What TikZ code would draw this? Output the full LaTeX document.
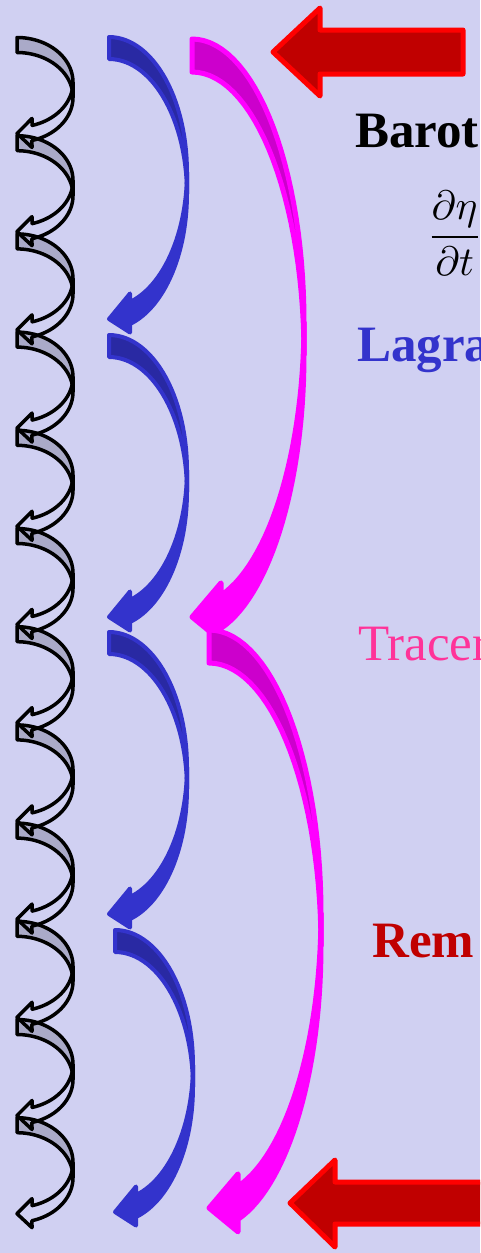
\documentclass[tikz,border=0pt]{standalone}
\usepackage{fontspec}
\setmainfont{Liberation Serif}
\usepackage{amsmath}
\definecolor{bg}{RGB}{208,208,242}
\definecolor{bluemain}{RGB}{51,51,204}
\definecolor{bluedark}{RGB}{41,41,163}
\definecolor{magmain}{RGB}{255,0,255}
\definecolor{magdark}{RGB}{204,0,204}
\definecolor{crescent}{RGB}{170,170,200}
\definecolor{redfill}{RGB}{192,0,0}
\definecolor{redline}{RGB}{255,0,0}
\definecolor{pinktext}{RGB}{255,51,153}
\tikzset{
  blue/back/.style={fill=bluedark, draw=bluemain, line width=4, line join=round},
  blue/front/.style={fill=bluemain, draw=bluemain, line width=4, line join=round},
  mag/back/.style={fill=magdark, draw=magmain, line width=5, line join=round},
  mag/front/.style={fill=magmain, draw=magmain, line width=5, line join=round},
  blk/back/.style={fill=crescent, draw=black, line width=3.5, line join=round},
  blk/front/.style={draw=black, line width=3.5, line join=round},
  redarrow/.style={fill=redfill, draw=redline, line width=5, line join=round},
  lbl/.style={anchor=base west, inner sep=0pt},
}
% #1 x0, #2 y0, #3 w, #4 hR, #5 th, #6 x1, #7 dh, #8 tip y, #9 style family
\newcommand{\carrow}[9]{%
  \begin{scope}[shift={(#1,#2)}]
    \pgfmathsetmacro\caW{#3}
    \pgfmathsetmacro\caR{#4}
    \pgfmathsetmacro\caT{#5}
    \pgfmathsetmacro\caX{#6}
    \pgfmathsetmacro\caD{#7}
    \pgfmathsetmacro\caS{acos(#6/#3)}
    \pgfmathsetmacro\caYf{\caR+\caR*sin(\caS)}
    \pgfmathsetmacro\caYs{\caR+\caT+\caR*sin(\caS)}
    \path[#9/back] (\caW,\caR+\caT)
      -- plot[domain=0:90,samples=30] ({\caW*cos(\x)},{\caR+\caT-\caR*sin(\x)})
      -- (0,0)
      -- plot[domain=0:90,samples=30] ({\caW*sin(\x)},{\caR-\caR*cos(\x)})
      -- cycle;
    \path[#9/front] (\caW,\caR+\caT)
      -- plot[domain=0:\caS,samples=30] ({\caW*cos(\x)},{\caR+\caT+\caR*sin(\x)})
      -- (\caX,\caYs+\caD) -- (0,#8) -- (\caX,\caYf-\caD) -- (\caX,\caYf)
      -- plot[domain=0:\caS,samples=30] ({\caW*cos(\caS-\x)},{\caR+\caR*sin(\caS-\x)})
      -- cycle;
  \end{scope}}
\begin{document}
\begin{tikzpicture}[x=1pt,y=-1pt]
\useasboundingbox (0,0) rectangle (480,1253);
\fill[bg] (0,0) rectangle (480,1253);
\clip (0,0) rectangle (480,1253);

% black chain of small curved arrows
\foreach \i in {11,10,...,0}{
  \carrow{17}{37.5+98.2*\i}{56}{44.8}{15}{15}{7}{96}{blk}
}

% blue curved arrows
\carrow{109}{37}{78}{135}{22}{21}{8.5}{282}{blue}
\carrow{109}{335}{78}{135}{22}{21}{8.5}{282}{blue}
\carrow{109}{632}{78}{135}{22}{21}{8.5}{282}{blue}
\carrow{115}{930}{78}{135}{22}{21}{8.5}{282}{blue}

% magenta curved arrows
\carrow{192}{39}{112}{283}{33}{29}{12.5}{578}{mag}
\carrow{209}{630}{112}{283}{33}{29}{12.5}{578}{mag}

% red block arrows
\draw[redarrow] (273,52) -- (320,8) -- (320,30) -- (463,30) -- (463,74) -- (320,74) -- (320,96) -- cycle;
\draw[redarrow] (290,1203) -- (335,1160) -- (335,1182) -- (520,1182) -- (520,1224) -- (335,1224) -- (335,1247) -- cycle;

% texts
\node[lbl, font=\fontsize{51}{60}\selectfont\bfseries] (barot) at (355,147) {Barot};
\node[lbl, scale=4.1] (eq) at (426,247) {$\dfrac{\partial\eta}{\partial t}$};
\node[lbl, font=\fontsize{51}{60}\selectfont\bfseries, text=bluemain] (lagra) at (357,361) {Lagra};
\node[lbl, font=\fontsize{51}{60}\selectfont, text=pinktext] (tracer) at (358,660) {Tracer};
\node[lbl, font=\fontsize{51}{60}\selectfont\bfseries, text=redfill] (rem) at (372,957) {Rem};
\end{tikzpicture}
\end{document}
